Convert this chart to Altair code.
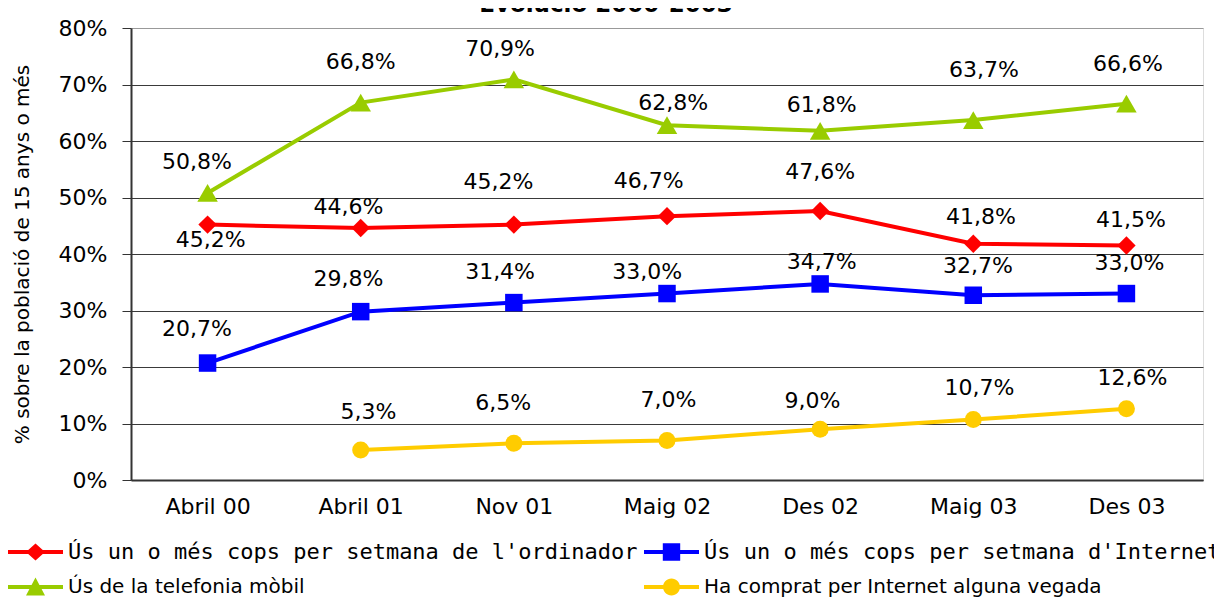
import json
import altair as alt
import pandas as pd

# ---------------- data ----------------
title_text = "Evolució 2000-2003"
categories = ["Abril 00", "Abril 01", "Nov 01", "Maig 02", "Des 02", "Maig 03", "Des 03"]
series_names = [
    "Ús un o més cops per setmana de l'ordinador",
    "Ús un o més cops per setmana d'Internet",
    "Ús de la telefonia mòbil",
    "Ha comprat per Internet alguna vegada",
]
ordinador = [45.2, 44.6, 45.2, 46.7, 47.6, 41.8, 41.5]
internet = [20.7, 29.8, 31.4, 33.0, 34.7, 32.7, 33.0]
mobil = [50.8, 66.8, 70.9, 62.8, 61.8, 63.7, 66.6]
compra = [None, 5.3, 6.5, 7.0, 9.0, 10.7, 12.6]

# where each value label sits (in data units: y in %, x in category steps)
ordinador_label_y = [42.5, 48.4, 52.8, 52.9, 54.6, 46.6, 46.0]
internet_label_y = [26.8, 35.5, 36.9, 36.8, 38.6, 37.8, 38.4]
mobil_label_y = [56.3, 73.9, 76.2, 66.7, 66.4, 72.6, 73.6]
compra_label_y = [None, 12.1, 13.6, 14.2, 14.0, 16.2, 18.0]
ordinador_label_dx = [0.02, -0.08, -0.10, -0.12, 0.0, 0.05, 0.03]
internet_label_dx = [-0.07, -0.08, -0.09, -0.13, 0.01, 0.03, 0.02]
mobil_label_dx = [-0.07, 0.0, -0.09, 0.04, 0.01, 0.07, 0.01]
compra_label_dx = [0.0, 0.05, -0.07, 0.01, -0.05, 0.04, 0.04]

y_ticks = [0, 10, 20, 30, 40, 50, 60, 70, 80]

# ---------------- styles ----------------
colors = ["#FF0000", "#0000FF", "#99CC00", "#FFCC00"]
shapes = ["diamond", "square", "triangle-up", "circle"]
marker_sizes = [340, 306, 420, 289]
bar = "M-2.75,-0.2H2.75V0.2H-2.75Z "
legend_paths = [
    bar + "M-0.95,0L0,-0.85L0.95,0L0,0.85Z",
    bar + "M-0.87,-0.87H0.87V0.87H-0.87Z",
    bar + "M0,-0.95L0.95,0.85L-0.95,0.85Z",
    bar + "M-0.85,0A0.85,0.85 0 1,1 0.85,0A0.85,0.85 0 1,1 -0.85,0Z",
]
FONT = "DejaVu Sans"

values_all = [ordinador, internet, mobil, compra]
laby_all = [ordinador_label_y, internet_label_y, mobil_label_y, compra_label_y]
labdx_all = [ordinador_label_dx, internet_label_dx, mobil_label_dx, compra_label_dx]

rows = []
for s, name in enumerate(series_names):
    for i, v in enumerate(values_all[s]):
        if v is None:
            continue
        rows.append({
            "series": name,
            "idx": i,
            "value": v,
            "label_x": i + labdx_all[s][i],
            "label_y": laby_all[s][i],
            "text": f"{v:.1f}".replace(".", ",") + "%",
        })
df = pd.DataFrame(rows)

x_axis = alt.Axis(
    values=list(range(len(categories))),
    labelExpr=json.dumps(categories) + "[datum.value]",
    grid=False, ticks=False, tickSize=0, labelPadding=16,
    domainColor="#333333", domainWidth=2,
    labelFont=FONT, labelFontSize=22, labelColor="black", title=None,
)
y_axis = alt.Axis(
    values=y_ticks,
    labelExpr="datum.value + '%'",
    grid=True,
    gridColor={"condition": {"test": "datum.value === 80", "value": "#999999"}, "value": "#3a3a3a"},
    gridWidth=1,
    tickColor="#333333", tickSize=9, tickWidth=1,
    domainColor="#333333", domainWidth=2,
    labelPadding=15, labelFont=FONT, labelFontSize=22, labelColor="black",
    title="% sobre la població de 15 anys o més",
    titleFont=FONT, titleFontSize=20, titleFontWeight="normal", titleColor="black",
    titleAngle=270, titleX=-109, titleY=226, titleAlign="center", titleBaseline="middle",
)
x_scale = alt.Scale(domain=[-0.5, len(categories) - 0.5], nice=False, zero=False)
y_scale = alt.Scale(domain=[0, 80], nice=False)

base = alt.Chart(df)

layers = []
for s, name in enumerate(series_names):
    layers.append(
        base.transform_filter(alt.datum.series == name)
        .mark_line(color=colors[s], strokeWidth=4)
        .encode(x=alt.X("idx:Q", scale=x_scale, axis=x_axis),
                y=alt.Y("value:Q", scale=y_scale, axis=y_axis))
    )
for s, name in enumerate(series_names):
    layers.append(
        base.transform_filter(alt.datum.series == name)
        .mark_point(shape=shapes[s], size=marker_sizes[s], filled=True,
                    color=colors[s], opacity=1, strokeWidth=0)
        .encode(x=alt.X("idx:Q", scale=x_scale, axis=x_axis),
                y=alt.Y("value:Q", scale=y_scale, axis=y_axis))
    )

labels = base.mark_text(font=FONT, fontSize=22, color="black", baseline="middle", align="center").encode(
    x=alt.X("label_x:Q", scale=x_scale, axis=x_axis),
    y=alt.Y("label_y:Q", scale=y_scale, axis=y_axis),
    text="text:N",
)
layers.append(labels)

legend = alt.Legend(
    title=None, orient="none", legendX=-123, legendY=514,
    direction="horizontal", columns=2, gridAlign="each", padding=0,
    symbolSize=400, symbolOffset=17.5, labelOffset=22.5, symbolStrokeWidth=0,
    symbolOpacity=1,
    labelFont={"expr": "datum.index < 2 ? 'DejaVu Sans Mono' : 'DejaVu Sans'"},
    labelFontSize={"expr": "datum.index < 2 ? 22 : 20"},
    labelColor="black", labelLimit=2000, rowPadding=14, columnPadding=6,
)
legend_layer = base.transform_filter("false").mark_point(filled=True, size=400, opacity=1).encode(
    x=alt.X("idx:Q", scale=x_scale, axis=x_axis),
    y=alt.Y("value:Q", scale=y_scale, axis=y_axis),
    color=alt.Color("series:N", scale=alt.Scale(domain=series_names, range=colors), legend=legend),
    shape=alt.Shape("series:N", scale=alt.Scale(domain=series_names, range=legend_paths), legend=legend),
)
layers.append(legend_layer)

# chart title: in the reference it is cut by the top edge, only its lower part shows
title_layer = alt.Chart(pd.DataFrame({"t": [title_text]})).mark_text(
    font=FONT, fontSize=23, fontWeight="bold", color="black",
    align="center", baseline="alphabetic",
).encode(x=alt.value(475), y=alt.value(-16), text="t:N")
layers.append(title_layer)

chart = alt.layer(*layers).properties(
    width=1072,
    height=452,
    padding={"left": 123, "top": 20, "right": 11, "bottom": 118},
    autosize=alt.AutoSizeParams(type="none"),
).configure_view(stroke="#888888", strokeWidth=1).configure(background="white")

chart.save("out.html", embed_options={"renderer": "svg", "actions": False})
